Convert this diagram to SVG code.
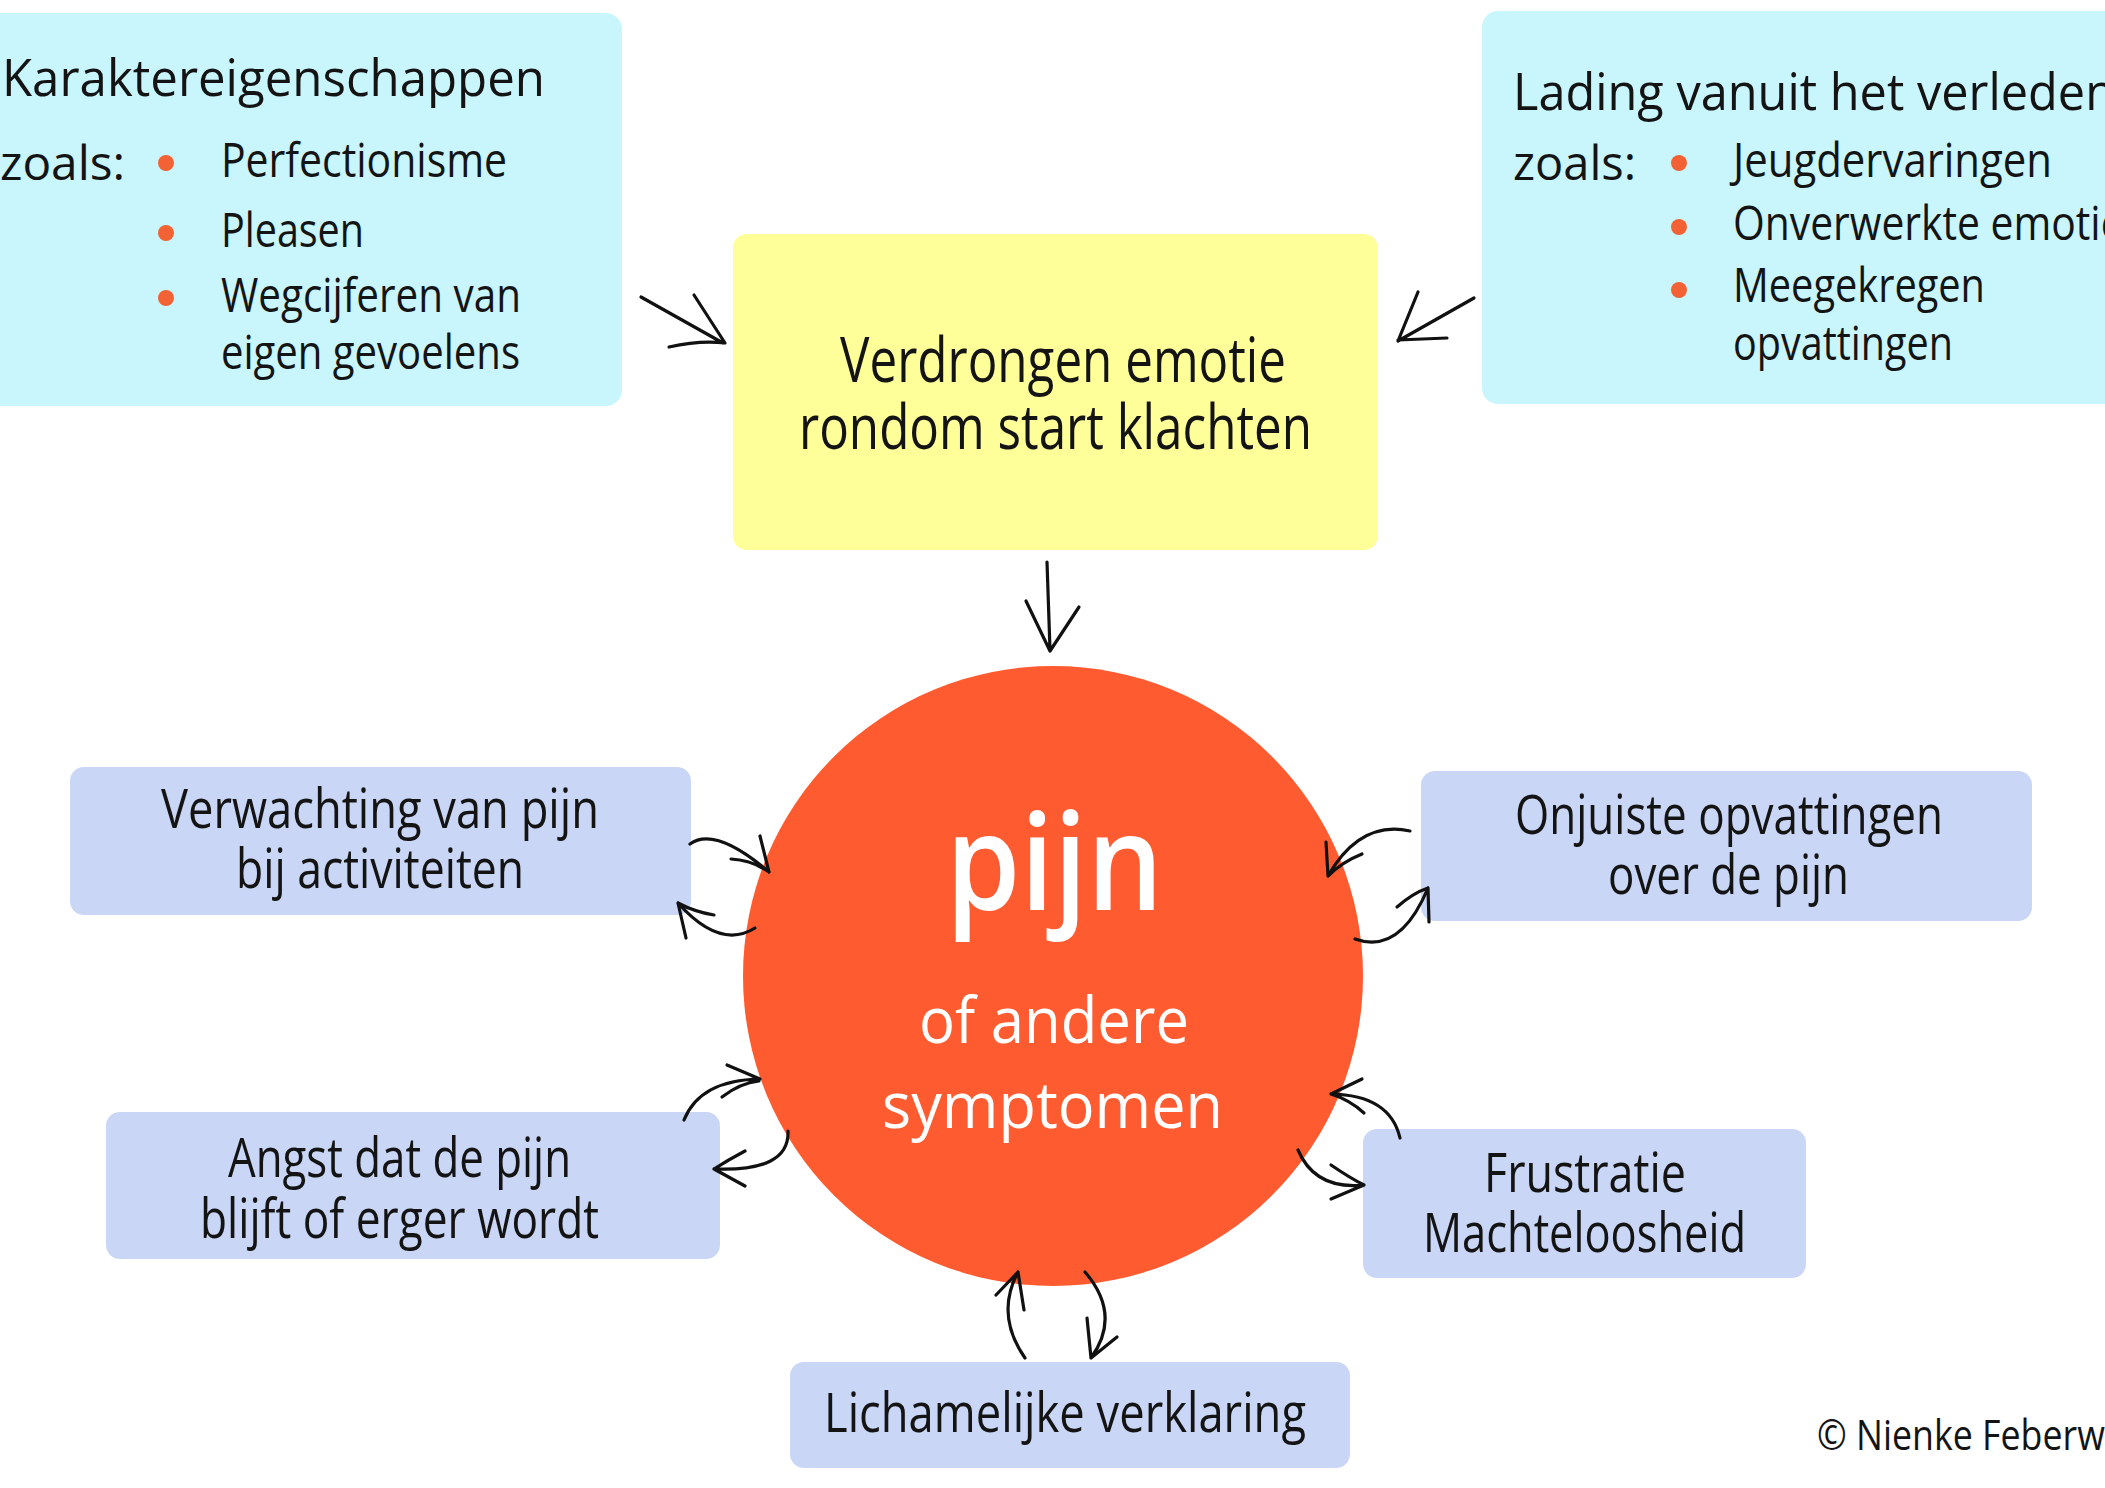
<svg xmlns="http://www.w3.org/2000/svg" width="2105" height="1488" viewBox="0 0 2105 1488">
<style>
text{font-family:"Open Sans","Noto Sans",sans-serif;fill:#141414;}
.h{font-size:52px;}
.i{font-size:48px;}
.y{font-size:63px;}
.b{font-size:54px;}
.w{fill:#ffffff;font-weight:600;}
.cyan{fill:#c8f6fc;}
.lav{fill:#c9d6f6;}
.bul{fill:#f26235;}
.c path{fill:none;stroke:#111;stroke-width:3.2;stroke-linecap:round;stroke-linejoin:round;}
</style>
<rect width="2105" height="1488" fill="#ffffff"/>

<g id="karakter">
<rect class="cyan" x="-20" y="13" width="642" height="393" rx="16"/>
<text class="h" x="2" y="96" textLength="543" lengthAdjust="spacingAndGlyphs">Karaktereigenschappen</text>
<text class="i" x="0" y="180" textLength="125" lengthAdjust="spacingAndGlyphs">zoals:</text>
<circle class="bul" cx="166" cy="163" r="8"/>
<circle class="bul" cx="166" cy="233" r="8"/>
<circle class="bul" cx="166" cy="298" r="8"/>
<text class="i" x="221" y="177" textLength="286" lengthAdjust="spacingAndGlyphs">Perfectionisme</text>
<text class="i" x="221" y="247" textLength="143" lengthAdjust="spacingAndGlyphs">Pleasen</text>
<text class="i" x="221" y="312" textLength="300" lengthAdjust="spacingAndGlyphs">Wegcijferen van</text>
<text class="i" x="221" y="369" textLength="299" lengthAdjust="spacingAndGlyphs">eigen gevoelens</text>
</g>

<g id="lading">
<rect class="cyan" x="1482" y="11" width="660" height="393" rx="16"/>
<text class="h" x="1513" y="110" textLength="602" lengthAdjust="spacingAndGlyphs">Lading vanuit het verleden</text>
<text class="i" x="1513" y="180" textLength="123" lengthAdjust="spacingAndGlyphs">zoals:</text>
<circle class="bul" cx="1679" cy="163" r="8"/>
<circle class="bul" cx="1679" cy="227" r="8"/>
<circle class="bul" cx="1679" cy="290" r="8"/>
<text class="i" x="1733" y="177" textLength="319" lengthAdjust="spacingAndGlyphs">Jeugdervaringen</text>
<text class="i" x="1733" y="240" textLength="410" lengthAdjust="spacingAndGlyphs">Onverwerkte emoties</text>
<text class="i" x="1733" y="302" textLength="252" lengthAdjust="spacingAndGlyphs">Meegekregen</text>
<text class="i" x="1733" y="360" textLength="220" lengthAdjust="spacingAndGlyphs">opvattingen</text>
</g>

<g id="verdrongen">
<rect x="733" y="234" width="645" height="316" rx="14" fill="#ffff99"/>
<text class="y" x="840" y="382" textLength="446" lengthAdjust="spacingAndGlyphs">Verdrongen emotie</text>
<text class="y" x="799" y="449" textLength="513" lengthAdjust="spacingAndGlyphs">rondom start klachten</text>
</g>

<g id="pijn">
<circle cx="1053" cy="976" r="310" fill="#fe5c30"/>
<text class="w" x="946" y="910" style="font-size:135px" textLength="217" lengthAdjust="spacingAndGlyphs">pijn</text>
<text class="w" x="919" y="1043" style="font-size:64px;font-weight:500" textLength="270" lengthAdjust="spacingAndGlyphs">of andere</text>
<text class="w" x="882" y="1128" style="font-size:64px;font-weight:500" textLength="341" lengthAdjust="spacingAndGlyphs">symptomen</text>
</g>

<g id="verwachting">
<rect class="lav" x="70" y="767" width="621" height="148" rx="14"/>
<text class="b" x="161" y="828" textLength="438" lengthAdjust="spacingAndGlyphs">Verwachting van pijn</text>
<text class="b" x="236" y="888" textLength="288" lengthAdjust="spacingAndGlyphs">bij activiteiten</text>
</g>

<g id="angst">
<rect class="lav" x="106" y="1112" width="614" height="147" rx="14"/>
<text class="b" x="228" y="1177" textLength="343" lengthAdjust="spacingAndGlyphs">Angst dat de pijn</text>
<text class="b" x="200" y="1238" textLength="399" lengthAdjust="spacingAndGlyphs">blijft of erger wordt</text>
</g>

<g id="lichamelijk">
<rect class="lav" x="790" y="1362" width="560" height="106" rx="14"/>
<text class="b" x="824" y="1432" textLength="482" lengthAdjust="spacingAndGlyphs">Lichamelijke verklaring</text>
</g>

<g id="onjuist">
<rect class="lav" x="1421" y="771" width="611" height="150" rx="14"/>
<text class="b" x="1515" y="834" textLength="428" lengthAdjust="spacingAndGlyphs">Onjuiste opvattingen</text>
<text class="b" x="1608" y="894" textLength="241" lengthAdjust="spacingAndGlyphs">over de pijn</text>
</g>

<g id="frustratie">
<rect class="lav" x="1363" y="1129" width="443" height="149" rx="14"/>
<text class="b" x="1484" y="1192" textLength="202" lengthAdjust="spacingAndGlyphs">Frustratie</text>
<text class="b" x="1423" y="1252" textLength="323" lengthAdjust="spacingAndGlyphs">Machteloosheid</text>
</g>

<g id="copyright">
<text x="1817" y="1450" style="font-size:42px" textLength="328" lengthAdjust="spacingAndGlyphs">© Nienke Feberwee</text>
</g>

<g id="connectors" class="c">
<path d="M641,297 L723,343 M694,295 L725,343 M669,347 Q700,340 725,343"/>
<path d="M1474,298 L1398,341 M1418,292 L1398,341 M1398,340 L1447,338"/>
<path d="M1047,562 L1050,650 M1026,601 L1050,651 L1079,607"/>
<path d="M690,844 Q715,826 769,872 M760,836 L769,872 M731,859 Q752,860 769,872"/>
<path d="M755,928 Q720,950 678,903 M686,938 L678,903 M714,915 Q695,912 678,903"/>
<path d="M1410,831 Q1360,820 1328,876 M1326,842 L1328,876 M1362,854 Q1342,862 1328,876"/>
<path d="M1355,939 Q1400,955 1428,888 M1397,907 Q1413,893 1428,888 M1428,888 L1429,922"/>
<path d="M684,1120 Q700,1080 760,1079 M727,1065 L760,1079 M722,1097 Q740,1083 759,1081"/>
<path d="M788,1131 Q790,1172 714,1169 M745,1151 Q728,1160 714,1169 M714,1169 L745,1186"/>
<path d="M1400,1138 Q1390,1095 1331,1094 M1362,1079 L1331,1094 M1331,1094 Q1350,1100 1364,1113"/>
<path d="M1298,1150 Q1315,1190 1364,1185 M1331,1165 Q1350,1178 1364,1185 M1364,1185 L1331,1199"/>
<path d="M1025,1358 Q995,1315 1018,1272 M996,1295 L1018,1272 L1024,1310"/>
<path d="M1085,1272 Q1122,1315 1091,1358 M1087,1318 L1091,1358 L1117,1337"/>
</g>
</svg>
